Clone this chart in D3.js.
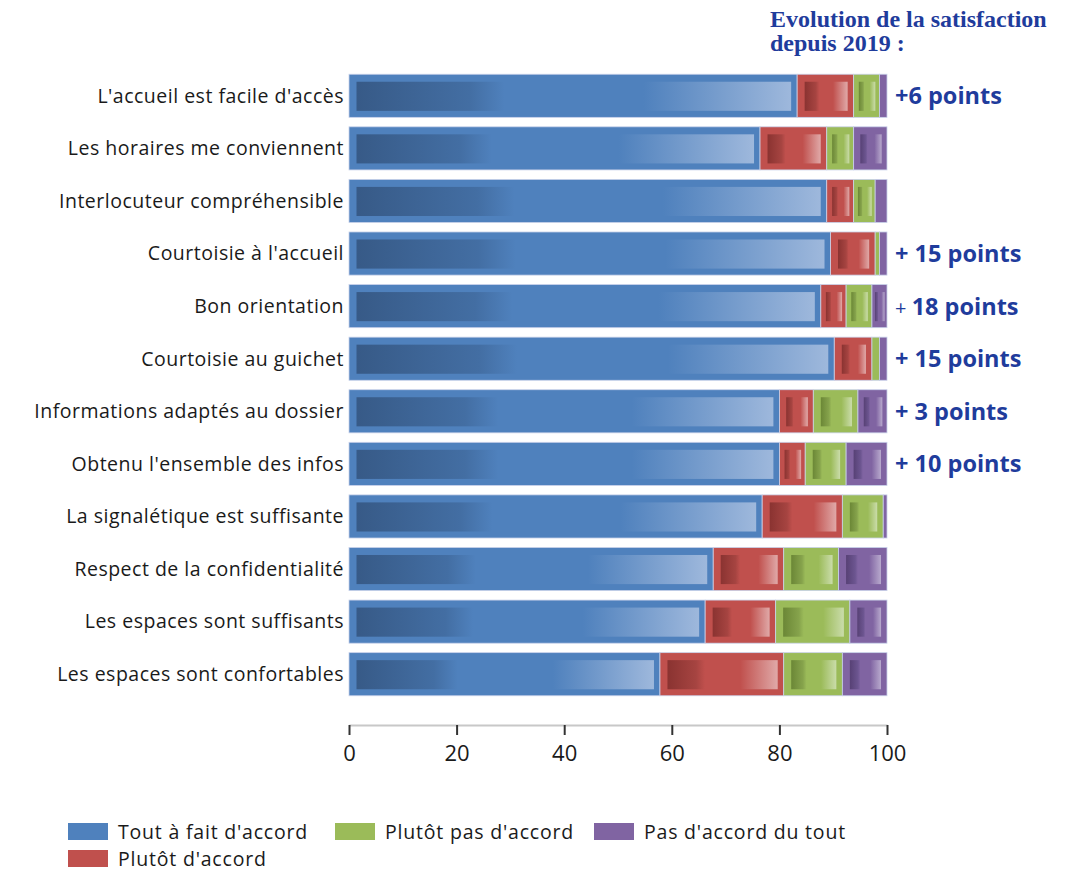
<!DOCTYPE html>
<html>
<head>
<meta charset="utf-8">
<script src="https://cdn.jsdelivr.net/npm/d3@7"></script>
<style>
  html, body { margin: 0; padding: 0; background: #fff; }
  svg { display: block; }
</style>
</head>
<body>
<svg id="chart" width="1075" height="872"></svg>
<script>
const categories = [
  "L'accueil est facile d'accès",
  "Les horaires me conviennent",
  "Interlocuteur compréhensible",
  "Courtoisie à l'accueil",
  "Bon orientation",
  "Courtoisie au guichet",
  "Informations adaptés au dossier",
  "Obtenu l'ensemble des infos",
  "La signalétique est suffisante",
  "Respect de la confidentialité",
  "Les espaces sont suffisants",
  "Les espaces sont confortables"
];
const seriesNames = ["Tout à fait d'accord", "Plutôt d'accord", "Plutôt pas d'accord", "Pas d'accord du tout"];
const toutAFait   = [83.3, 76.4, 88.8, 89.5, 87.7, 90.2, 80.0, 80.0, 76.8, 67.7, 66.2, 57.8];
const plutot      = [10.5, 12.4,  5.0,  8.3,  4.7,  7.0,  6.3,  4.8, 14.9, 13.1, 13.1, 23.0];
const plutotPas   = [ 4.8,  5.0,  4.0,  0.8,  4.8,  1.4,  8.3,  7.6,  7.6, 10.2, 13.8, 10.9];
const pasDuTout   = [ 1.4,  6.2,  2.2,  1.4,  2.8,  1.4,  5.4,  7.6,  0.7,  9.0,  6.9,  8.3];
const evolution   = ["+6 points", null, null, "+ 15 points", "+ 18 points", "+ 15 points", "+ 3 points", "+ 10 points", null, null, null, null];
const xTicks = [0, 20, 40, 60, 80, 100];
const titleLines = ["Evolution de la satisfaction", "depuis 2019 :"];

const colors = ["#4f81bd", "#c0504d", "#9bbb59", "#8064a2"];
const darks  = ["#375a87", "#8a3331", "#6b8736", "#574175"];
const mids   = ["#436ea3", "#a64441", "#86a34c", "#6c5590"];
const lights = ["#9eb8dc", "#e0a9a8", "#cadcaa", "#b8a9cd"];

const svg = d3.select("#chart");
const defs = svg.append("defs");
colors.forEach((c, i) => {
  const g = defs.append("linearGradient").attr("id", "grad" + i)
    .attr("x1", "0%").attr("x2", "100%").attr("y1", "0%").attr("y2", "0%");
  [[0, darks[i]], [0.26, mids[i]], [0.34, c], [0.66, c], [1, lights[i]]].forEach(([o, col]) =>
    g.append("stop").attr("offset", o).attr("stop-color", col));
});

const x = d3.scaleLinear().domain([0, 100]).range([349, 887]);
const y = d3.scaleBand().domain(categories).range([69.5, 700.5]).paddingInner(0.18).paddingOuter(0.09);

const table = categories.map((c, i) => ({
  cat: c, vals: [toutAFait[i], plutot[i], plutotPas[i], pasDuTout[i]]
}));
const segs = [];
table.forEach(r => {
  let acc = 0;
  r.vals.forEach((v, k) => { segs.push({ cat: r.cat, k, x0: acc, x1: acc + v }); acc += v; });
});

const gBars = svg.append("g");
const segG = gBars.selectAll("g.seg").data(segs).join("g").attr("class", "seg");
segG.append("rect")
  .attr("x", d => x(d.x0)).attr("width", d => x(d.x1) - x(d.x0))
  .attr("y", d => y(d.cat)).attr("height", y.bandwidth())
  .attr("fill", d => colors[d.k])
  .attr("stroke", "#c9d2ea").attr("stroke-width", 0.8);
segG.filter(d => x(d.x1) - x(d.x0) >= 12).append("rect")
  .attr("x", d => { const w = x(d.x1) - x(d.x0); return x(d.x0) + Math.min(7.5, w * 0.2); })
  .attr("width", d => { const w = x(d.x1) - x(d.x0); return w - Math.min(7.5, w * 0.2) - Math.min(6, w * 0.16); })
  .attr("y", d => y(d.cat) + 7.5).attr("height", y.bandwidth() - 14)
  .attr("fill", d => "url(#grad" + d.k + ")");

// category labels
svg.append("g").selectAll("text").data(categories).join("text")
  .attr("x", 344).attr("y", d => y(d) + y.bandwidth() / 2)
  .attr("dy", "0.35em").attr("text-anchor", "end")
  .attr("font-family", "'Open Sans', sans-serif").attr("font-size", 19.5)
  .attr("fill", "#1a1a1a").attr("letter-spacing", 0.5)
  .text(d => d);

// axis
const axisY = 725;
const ax = svg.append("g").attr("transform", `translate(0,${axisY})`)
  .call(d3.axisBottom(x).tickValues(xTicks).tickSize(10).tickSizeOuter(0).tickPadding(10));
ax.select(".domain").attr("stroke", "#c8c8c8").attr("stroke-width", 2);
ax.selectAll(".tick line").attr("stroke", "#333").attr("stroke-width", 2);
ax.selectAll(".tick text").attr("font-family", "'Open Sans', sans-serif").attr("font-size", 22)
  .attr("fill", "#1a1a1a").attr("dy", "0.72em");

// evolution annotations
const ann = svg.append("g");
categories.forEach((c, i) => {
  const t = evolution[i];
  if (!t) return;
  const txt = ann.append("text")
    .attr("x", x(100) + 8).attr("y", y(c) + y.bandwidth() / 2).attr("dy", "0.36em")
    .attr("font-family", "'Open Sans', sans-serif").attr("font-weight", 700).attr("font-size", 23.5)
    .attr("fill", "#1f3c9c");
  if (i === 4) {
    txt.append("tspan").attr("font-weight", 400).attr("font-size", 20).text("+ ");
    txt.append("tspan").text(t.replace(/^\+\s*/, ""));
  } else {
    txt.text(t);
  }
});

// title
svg.append("g").selectAll("text").data(titleLines).join("text")
  .attr("x", 770).attr("y", (d, i) => 27 + i * 24)
  .attr("font-family", "'Liberation Serif', 'Times New Roman', serif").attr("font-weight", 700)
  .attr("font-size", 24).attr("fill", "#1f3c9c")
  .text(d => d);

// legend
const legendPos = [[68, 823], [68, 850], [335, 823], [594, 823]];
const lg = svg.append("g");
seriesNames.forEach((n, i) => {
  const [lx, ly] = legendPos[i];
  lg.append("rect").attr("x", lx).attr("y", ly).attr("width", 40).attr("height", 17).attr("fill", colors[i]);
  lg.append("text").attr("x", lx + 50).attr("y", ly + 9).attr("dy", "0.35em")
    .attr("font-family", "'Open Sans', sans-serif").attr("font-size", 19.5).attr("fill", "#1a1a1a")
    .attr("letter-spacing", 0.8)
    .text(n);
});
</script>
</body>
</html>
